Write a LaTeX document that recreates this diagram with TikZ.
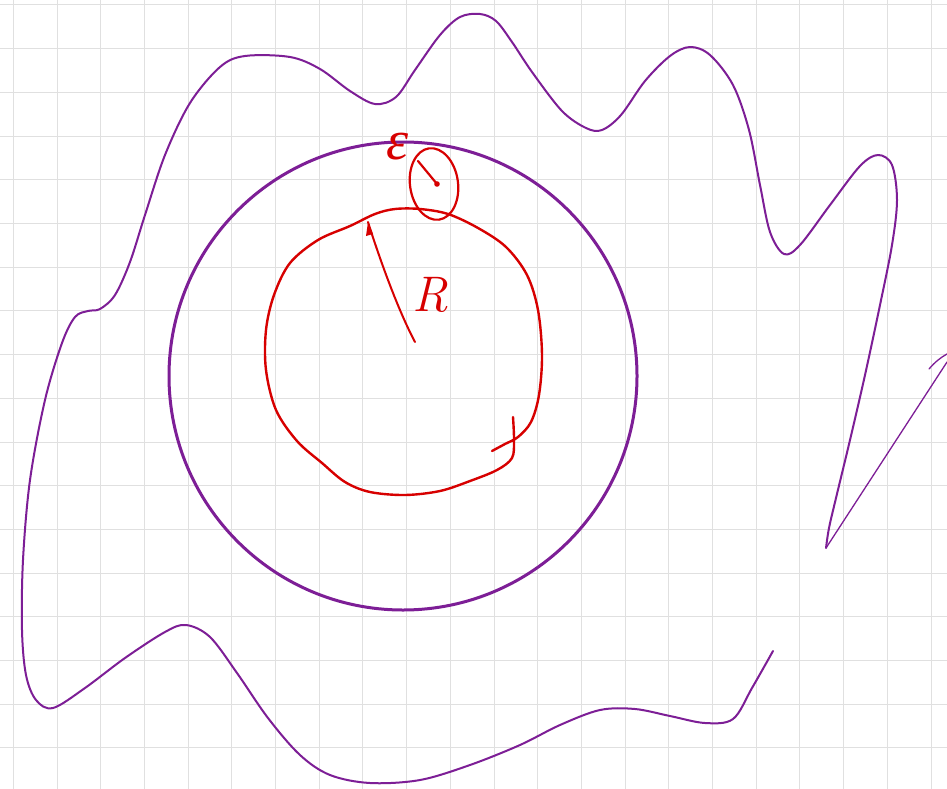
\documentclass[tikz,border=0pt]{standalone}
\usepackage{fontspec}
\newfontfamily\lserif{Liberation Serif}
\begin{document}
\begin{tikzpicture}[x=1pt,y=-1pt]
\definecolor{gridc}{RGB}{224,224,224}
\definecolor{purp}{RGB}{125,30,150}
\definecolor{redc}{RGB}{215,0,0}
\tikzset{gridline/.style={gridc,line width=1pt},
  purpline/.style={purp,line width=2pt,line cap=round,line join=round},
  redline/.style={redc,line width=2.4pt,line cap=round,line join=round}}
\useasboundingbox[fill=white] (0,0) rectangle (947,789);
\foreach \i in {0,...,21} {\draw[gridline] (13.3+43.7*\i,0) -- (13.3+43.7*\i,789);}
\foreach \j in {0,...,18} {\draw[gridline] (0,5+43.7*\j) -- (947,5+43.7*\j);}
% outer freehand curve
\draw[purpline] plot[smooth,tension=0.55] coordinates {
(773,651) (752,688) (733,719) (705,723) (670,716) (635,709) (600,710) (560,725) (520,745) (470,765) (420,780) (370,783) (330,775) (300,755) (268,718) (237,673) (210,637) (186,625) (165,632) (125,658) (85,688) (53,708) (36,700) (26,675) (22,630) (23,560) (30,480) (45,400) (62,343) (75,317) (88,311) (100,309) (115,295) (130,262) (145,215) (165,155) (190,103) (220,67) (245,56) (290,57) (320,69) (350,91) (375,104) (396,97) (415,70) (440,35) (460,17) (480,14) (496,21) (512,42) (532,72) (562,111) (586,128) (602,130) (621,115) (645,81) (670,56) (690,47) (710,55) (733,85) (749,130) (760,185) (770,232) (784,254) (800,245) (830,205) (860,166) (878,155) (892,165) (897,200) (892,245) (880,305) (865,375) (850,440) (836,498) (829,528) (826,548)};
\draw[purp,line width=1.3pt,line cap=round] (826,548) -- (947,362);
\draw[purp,line width=1.3pt,line cap=round] (929,369) .. controls (935,362) and (940,358) .. (947,354);
% big circle
\node[draw=purp,line width=3pt,circle,minimum size=468pt,inner sep=0pt] (big) at (403,376) {};
% red freehand circle
\draw[redline] plot[smooth,tension=0.55] coordinates {
(513,417) (514,440) (512,458) (497,470) (470,481) (440,491) (405,495) (370,492) (345,482) (322,463) (297,441) (276,410) (266,370) (266,330) (274,295) (290,263) (318,240) (350,226) (375,214) (395,209) (420,209) (448,214) (478,228) (506,247) (527,275) (538,310) (542,355) (539,395) (531,422) (518,437) (505,444) (492,451)};
% radius R
\coordinate (ctr) at (415,342);
\coordinate (rtop) at (368,222);
\draw[redline,line width=2pt] (ctr) .. controls (398,310) and (380,260) .. (rtop);
\fill[redc] (368,222) -- (373,234) -- (366,236) -- cycle;
\node[redc,font=\fontsize{50}{50}\selectfont\itshape,inner sep=0pt] (R) at (430,295) {R};
% small circle epsilon
\draw[redline,line width=2.2pt,rotate around={8:(434,184)}] (434,184) ellipse (24pt and 36pt);
\coordinate (ec) at (437,184);
\draw[redline,line width=2.2pt] (418,161) -- (ec);
\fill[redc] (ec) circle (2.8pt);
\node[redc,font=\fontsize{56}{56}\selectfont\lserif\itshape,inner sep=0pt] (eps) at (398,147) {ε};
\end{tikzpicture}
\end{document}
